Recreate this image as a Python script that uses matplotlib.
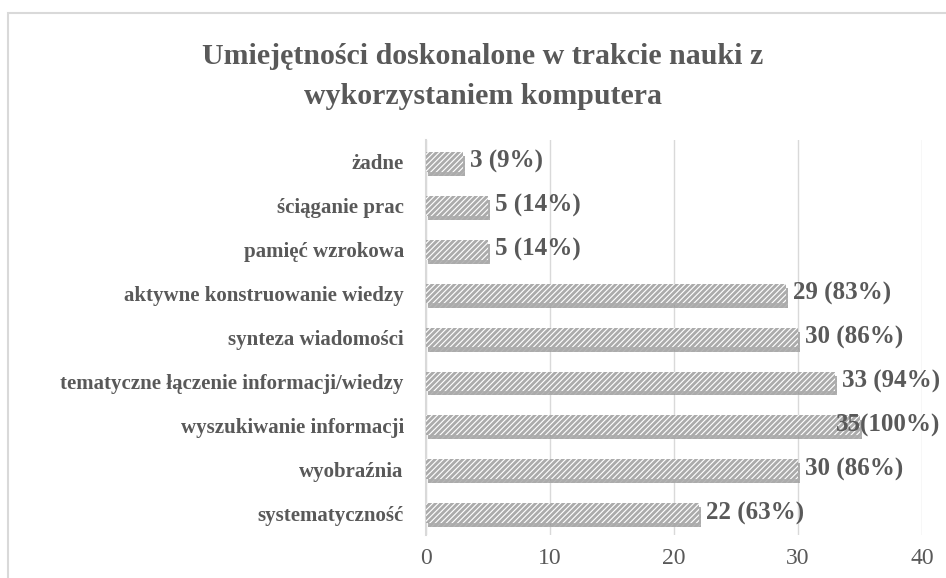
import matplotlib.pyplot as plt
import matplotlib.patheffects as pe
from matplotlib.patches import Rectangle

# dane z wykresu (od góry do dołu)
categories = ['żadne', 'ściąganie prac', 'pamięć wzrokowa', 'aktywne konstruowanie wiedzy',
              'synteza wiadomości', 'tematyczne łączenie informacji/wiedzy',
              'wyszukiwanie informacji', 'wyobraźnia', 'systematyczność']
values = [3, 5, 5, 29, 30, 33, 35, 30, 22]
labels = ['3 (9%)', '5 (14%)', '5 (14%)', '29 (83%)', '30 (86%)', '33 (94%)',
          '35(100%)', '30 (86%)', '22 (63%)']
ticks = [0, 10, 20, 30, 40]

txt = '#595959'
plt.rcParams['font.family'] = ['Liberation Serif', 'DejaVu Serif']
plt.rcParams['hatch.linewidth'] = 2.0

fig = plt.figure(figsize=(9.46, 5.78), dpi=100)
# ramka obszaru wykresu (ucięta z prawej i z dołu)
fig.patches.append(Rectangle((8/946, -0.1), 1.1, 1.1 - 13/578, transform=fig.transFigure,
                             fill=False, edgecolor='#d9d9d9', lw=1.5))
ax = fig.add_axes([426/946, 43/578, 496/946, 395/578])

ypos = list(range(len(categories)))
bars = ax.barh(ypos, values, height=0.45, color='white', edgecolor='#ababab',
               hatch='//////', linewidth=0, zorder=3)
for b in bars:
    b.set_path_effects([pe.SimplePatchShadow(offset=(1.5, -3), shadow_rgbFace='#6f6f6f', alpha=0.5),
                        pe.Normal()])

for i, (v, lab) in enumerate(zip(values, labels)):
    off = 5
    if lab.startswith('35'):
        off = -17
    ax.annotate(lab, (v, i), xytext=(off, 0), textcoords='offset points',
                ha='left', va='center', fontsize=18, fontweight='bold', color=txt, zorder=5)

ax.set_xlim(0, 40)
ax.set_ylim(len(categories) - 0.5, -0.5)
ax.set_xticks(ticks)
ax.set_yticks(ypos)
ax.set_yticklabels(categories, fontweight='bold', fontsize=15, color=txt)
ax.tick_params(axis='x', labelsize=17, colors=txt, length=0, pad=9)
ax.tick_params(axis='y', length=0, pad=16)
ax.grid(axis='x', color='#d9d9d9', lw=1, zorder=0)
for s in ['top', 'right', 'bottom']:
    ax.spines[s].set_visible(False)
ax.spines['left'].set_color('#d9d9d9')
ax.spines['left'].set_linewidth(1.5)

fig.text(483/946, 1 - 57/578, 'Umiejętności doskonalone w trakcie nauki z', ha='center', va='center',
         fontsize=21.5, fontweight='bold', color=txt)
fig.text(483/946, 1 - 97/578, 'wykorzystaniem komputera', ha='center', va='center',
         fontsize=21.5, fontweight='bold', color=txt)

fig.savefig('out.png', dpi=100)
